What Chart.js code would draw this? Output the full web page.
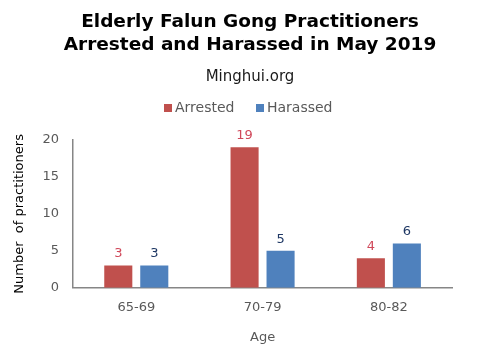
<!DOCTYPE html>
<html><head><meta charset="utf-8">
<script src="https://cdn.jsdelivr.net/npm/chart.js@4/dist/chart.umd.min.js"></script>
<style>html,body{margin:0;padding:0;background:#fff}#w{width:500px;height:360px}</style>
</head><body><div id="w"><canvas id="c" width="500" height="360"></canvas></div>
<script>
const categories = ["65-69", "70-79", "80-82"];
const arrested = [3, 19, 4];
const harassed = [3, 5, 6];
const yTicks = [0, 5, 10, 15, 20];

const FONT = "'DejaVu Sans', Verdana, sans-serif";
const barColors = ['#C0504D', '#4F81BD'];
const labelColors = ["#D0485A", "#1F3864"];

function swatch(color) {
  const c = document.createElement('canvas');
  c.width = 8; c.height = 8;
  const g = c.getContext('2d');
  g.fillStyle = color; g.fillRect(0, 0, 8, 8);
  return c;
}
const swatches = barColors.map(swatch);

const valueLabels = {
  id: 'valueLabels',
  afterDatasetsDraw(chart) {
    const ctx = chart.ctx;
    ctx.save();
    ctx.font = "13px " + FONT;
    ctx.textAlign = 'center';
    ctx.textBaseline = 'bottom';
    chart.data.datasets.forEach((ds, i) => {
      const meta = chart.getDatasetMeta(i);
      meta.data.forEach((bar, j) => {
        ctx.fillStyle = labelColors[i];
        ctx.fillText(String(ds.data[j]), bar.x, bar.y - 5);
      });
    });
    ctx.restore();
  }
};

new Chart(document.getElementById('c'), {
  type: 'bar',
  data: {
    labels: categories,
    datasets: [
      { label: 'Arrested', data: arrested, backgroundColor: barColors[0] },
      { label: 'Harassed', data: harassed, backgroundColor: barColors[1] }
    ]
  },
  options: {
    responsive: false,
    animation: false,
    devicePixelRatio: 1,
    layout: { padding: { left: 0, right: 0, top: 10.4, bottom: 11 } },
    datasets: { bar: { categoryPercentage: 0.57, barPercentage: 0.78 } },
    plugins: {
      title: {
        display: true,
        text: ['Elderly Falun Gong Practitioners', 'Arrested and Harassed in May 2019'],
        color: '#000',
        font: { family: FONT, size: 18.5, weight: 'bold', lineHeight: 1.25 },
        padding: { top: 0, bottom: 11.3 }
      },
      subtitle: {
        display: true,
        text: 'Minghui.org',
        color: '#1a1a1a',
        font: { family: FONT, size: 15, lineHeight: 1.2 },
        padding: { top: 0, bottom: -10 }
      },
      legend: {
        display: true,
        labels: {
          usePointStyle: true, pointStyleWidth: 0.5, boxHeight: 8,
          color: '#595959',
          font: { family: FONT, size: 14 }, padding: 25,
          generateLabels(chart) {
            const items = Chart.defaults.plugins.legend.labels.generateLabels(chart);
            items.forEach((it, i) => { it.pointStyle = swatches[i]; });
            return items;
          }
        }
      },
      tooltip: { enabled: false }
    },
    scales: {
      x: {
        grid: { display: false, drawTicks: false },
        border: { color: '#868686', width: 1.5 },
        ticks: { color: '#595959', font: { family: FONT, size: 13 }, padding: 12 },
        title: { display: true, text: 'Age', color: '#595959', font: { family: FONT, size: 13 }, padding: { top: 2 } }
      },
      xTop: {
        position: 'top',
        display: true,
        grid: { display: false, drawTicks: false },
        border: { display: false },
        ticks: { display: false },
        afterFit(scale) { scale.height = 15; }
      },
      y: {
        min: 0, max: 20,
        afterBuildTicks(axis) { axis.ticks = yTicks.map(v => ({ value: v })); },
        grid: { display: false, drawTicks: false },
        border: { color: '#868686', width: 1.5 },
        ticks: { color: '#595959', font: { family: FONT, size: 13 }, padding: 14 },
        title: { display: true, text: 'Number  of practitioners', color: '#000', font: { family: FONT, size: 13 }, padding: { top: 12, bottom: 1 } }
      },
      yRight: {
        position: 'right',
        display: true,
        grid: { display: false, drawTicks: false },
        border: { display: false },
        ticks: { display: false },
        afterFit(scale) { scale.width = 48; }
      }
    }
  },
  plugins: [valueLabels]
});
</script></body></html>
